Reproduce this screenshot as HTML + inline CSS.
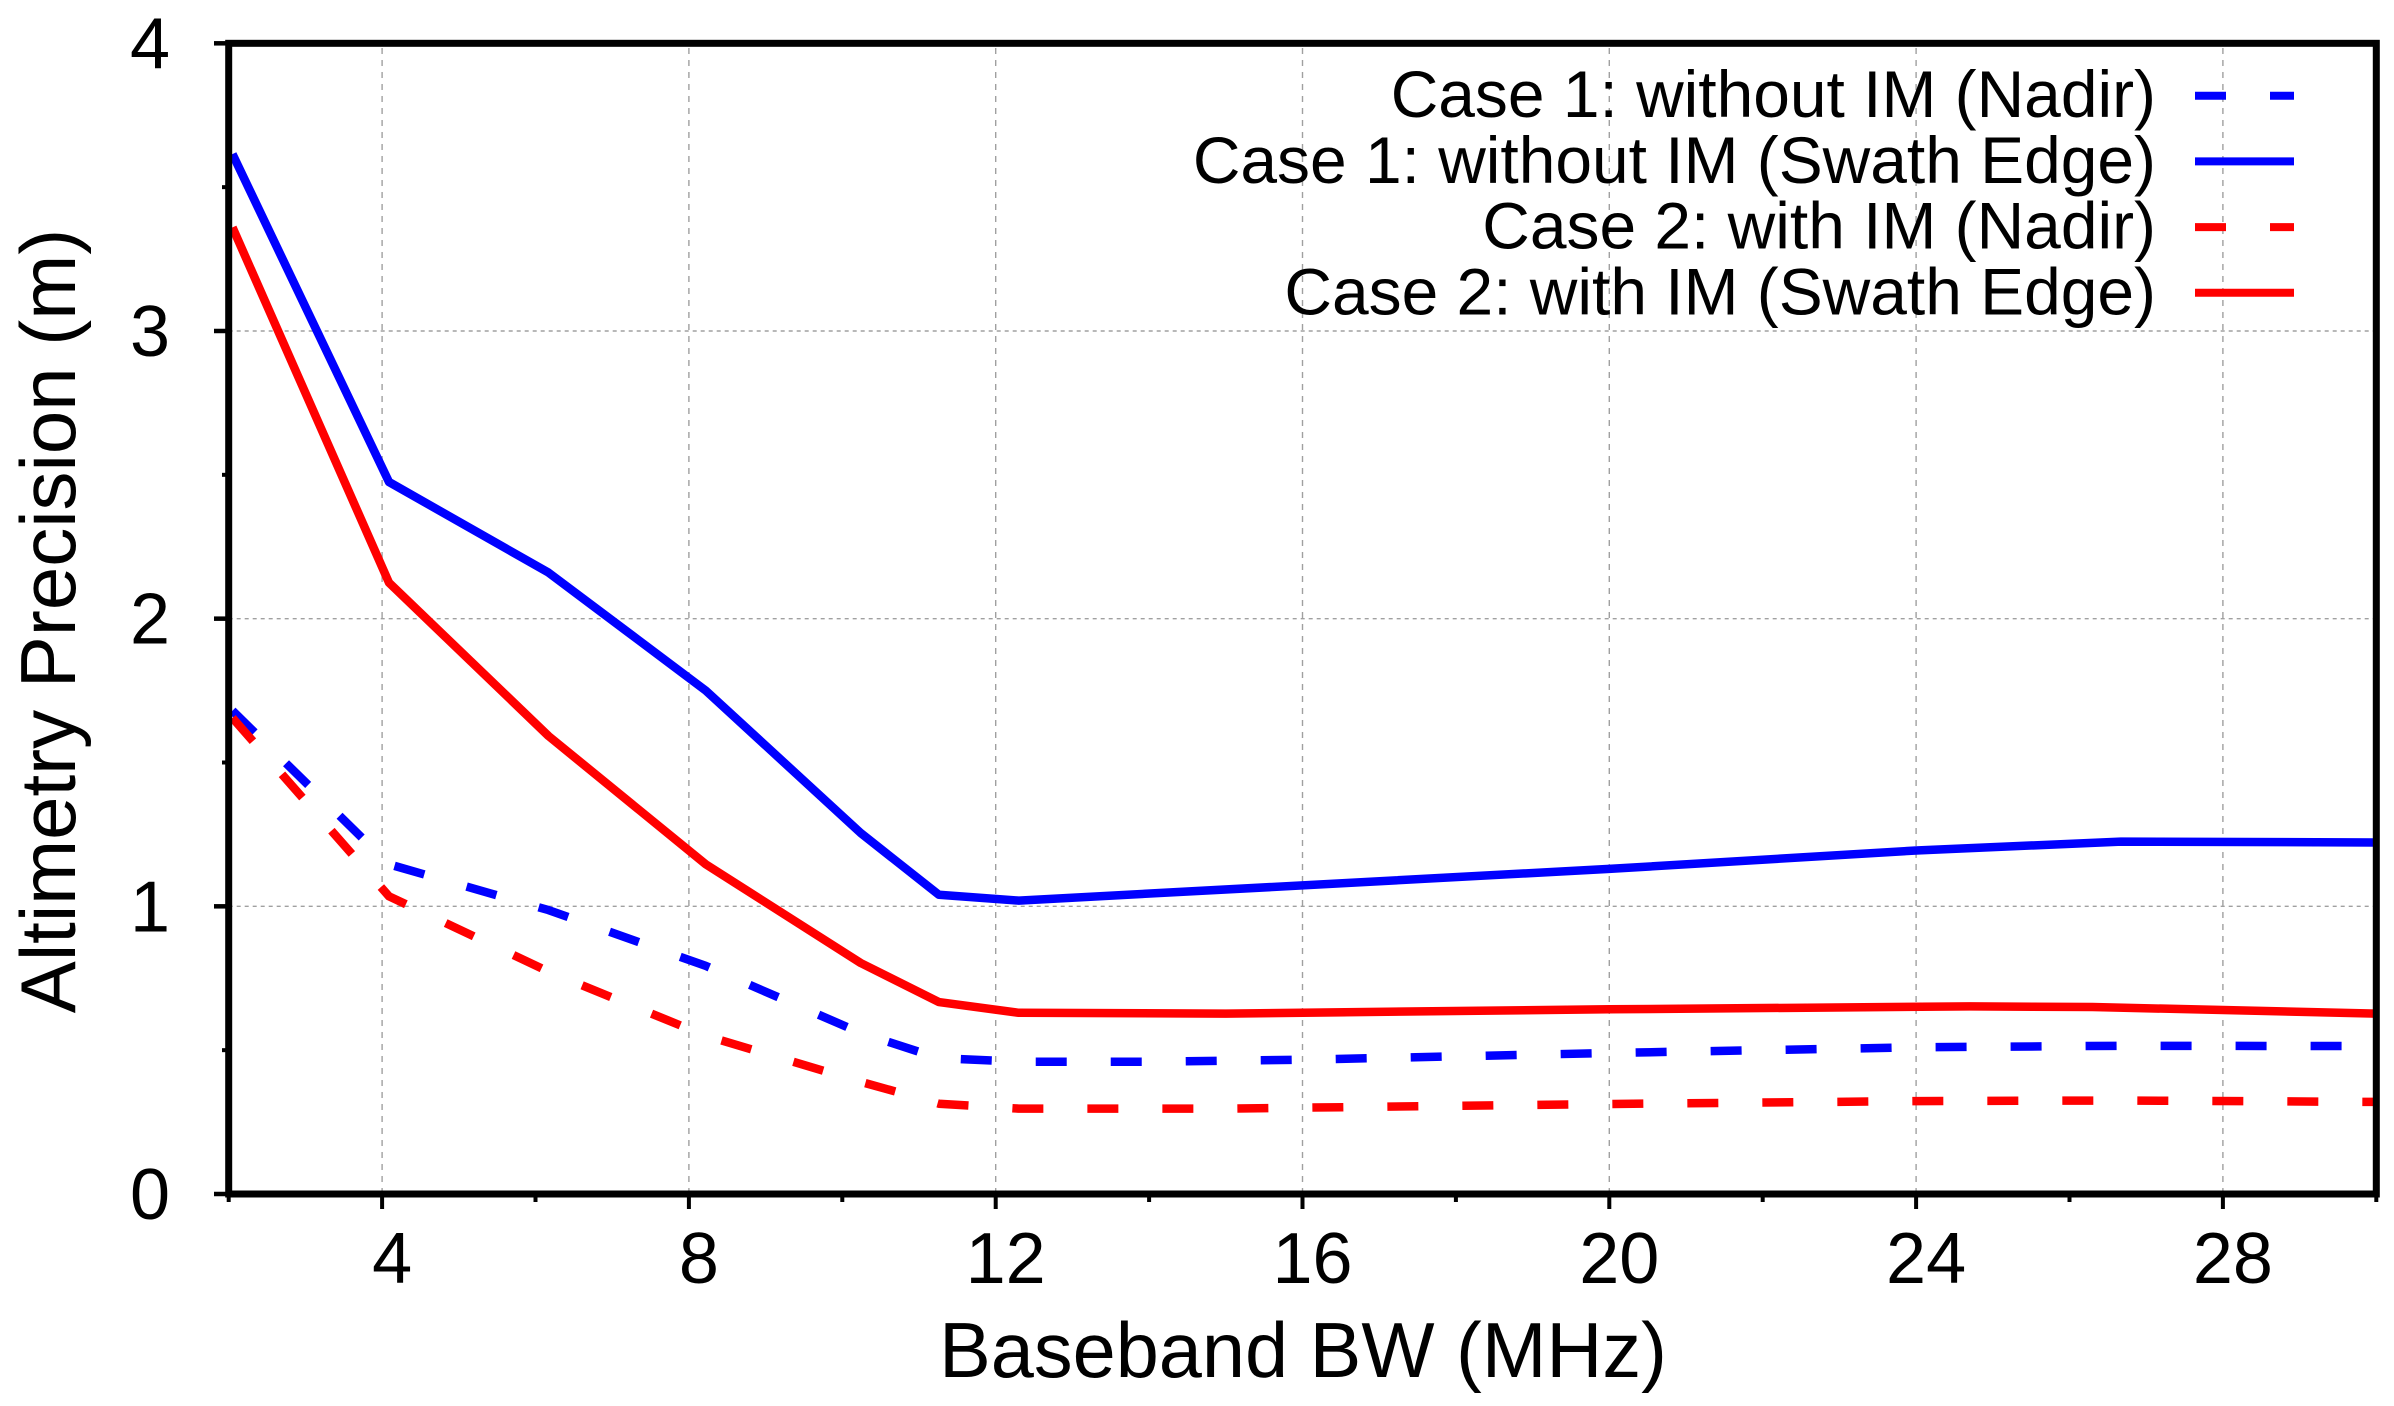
<!DOCTYPE html>
<html lang="en">
<head>
<meta charset="utf-8">
<title>Altimetry Precision vs Baseband BW</title>
<style>
html,body{margin:0;padding:0;background:#fff;}
svg{display:block;}
text{font-family:"Liberation Sans",Arial,sans-serif;fill:#000;}
</style>
</head>
<body>
<svg id="chart" xmlns="http://www.w3.org/2000/svg" width="2394" height="1406" viewBox="0 0 2394 1406">
  <rect x="0" y="0" width="2394" height="1406" fill="#fff"/>
  <g id="grid"></g>
  <g id="series"></g>
  <g id="axes"></g>
  <g id="legend"></g>
  <text x="1303" y="1377" font-size="77.5" text-anchor="middle">Baseband BW (MHz)</text>
  <text transform="translate(75,621) rotate(-90)" font-size="78" text-anchor="middle">Altimetry Precision (m)</text>
</svg>
<script>
var xMajorTicks = [4, 8, 12, 16, 20, 24, 28];
var xMinorTicks = [2, 6, 10, 14, 18, 22, 26, 30];
var yMajorTicks = [0, 1, 2, 3, 4];
var yMinorTicks = [0.5, 1.5, 2.5, 3.5];
var yGridTicks = [1, 2, 3];

var case1NadirX = [2.05, 4.09, 6.17, 8.22, 10.24, 11.26, 12.3, 14, 16, 20, 24, 26.67, 30];
var case1NadirY = [1.68, 1.146, 0.987, 0.793, 0.56, 0.472, 0.46, 0.46, 0.467, 0.49, 0.51, 0.515, 0.514];

var case1EdgeX = [2.05, 4.09, 6.17, 8.22, 10.24, 11.26, 12.3, 20, 24, 26.67, 30];
var case1EdgeY = [3.615, 2.475, 2.16, 1.75, 1.255, 1.04, 1.02, 1.13, 1.194, 1.225, 1.222];

var case2NadirX = [2.05, 4.09, 6.17, 8.22, 10.24, 11.26, 12.3, 15, 20, 24, 26.67, 30];
var case2NadirY = [1.655, 1.035, 0.773, 0.55, 0.39, 0.314, 0.297, 0.297, 0.313, 0.323, 0.325, 0.32];

var case2EdgeX = [2.05, 4.09, 6.17, 8.22, 10.24, 11.26, 12.3, 15, 20, 24.7, 26.3, 30];
var case2EdgeY = [3.36, 2.125, 1.592, 1.146, 0.803, 0.667, 0.63, 0.627, 0.642, 0.652, 0.65, 0.627];

var legendLabels = [
  "Case 1: without IM (Nadir)",
  "Case 1: without IM (Swath Edge)",
  "Case 2: with IM (Nadir)",
  "Case 2: with IM (Swath Edge)"
];

var SVGNS = "http://www.w3.org/2000/svg";
function xScale(v) { return 228.7 + (v - 2) * 76.7; }
function yScale(v) { return 1194 - v * 287.67; }
function make(parent, tag, attrs, text) {
  var el = document.createElementNS(SVGNS, tag);
  for (var k in attrs) { el.setAttribute(k, attrs[k]); }
  if (text !== undefined) { el.textContent = text; }
  parent.appendChild(el);
  return el;
}

var gridG = document.getElementById("grid");
var seriesG = document.getElementById("series");
var axesG = document.getElementById("axes");
var legendG = document.getElementById("legend");

xMajorTicks.forEach(function (t) {
  var el = make(gridG, "line", { x1: xScale(t), x2: xScale(t), y1: yScale(0), y2: yScale(4), stroke: "#a0a0a0", "stroke-width": 1.4, "stroke-dasharray": "6 6" });
  
  
});
yGridTicks.forEach(function (t) {
  var el = make(gridG, "line", { x1: xScale(2), x2: xScale(30), y1: yScale(t), y2: yScale(t), stroke: "#a0a0a0", "stroke-width": 1.4, "stroke-dasharray": "4 4" });
  
  
});

function drawSeries(xs, ys, color, dash) {
  var pts = xs.map(function (x, i) { return xScale(x).toFixed(1) + "," + yScale(ys[i]).toFixed(1); }).join(" ");
  var attrs = { points: pts, fill: "none", stroke: color, "stroke-width": 8.5, "stroke-linejoin": "round" };
  if (dash) { attrs["stroke-dasharray"] = "31 44"; }
  return make(seriesG, "polyline", attrs);
}
var s1 = drawSeries(case1NadirX, case1NadirY, "#0000ff", true);


var s2 = drawSeries(case1EdgeX, case1EdgeY, "#0000ff", false);


var s3 = drawSeries(case2NadirX, case2NadirY, "#ff0000", true);


var s4 = drawSeries(case2EdgeX, case2EdgeY, "#ff0000", false);



var frame = make(axesG, "rect", { x: xScale(2), y: yScale(4), width: xScale(30) - xScale(2), height: yScale(0) - yScale(4), fill: "none", stroke: "#000", "stroke-width": 7 });



xMajorTicks.forEach(function (t) {
  var tick = make(axesG, "line", { x1: xScale(t), x2: xScale(t), y1: yScale(0), y2: 1209, stroke: "#000", "stroke-width": 4 });
  
  
  var label = make(axesG, "text", { x: xScale(t) + 10, y: 1283, "font-size": 72, "text-anchor": "middle" }, String(t));
  
  
});
xMinorTicks.forEach(function (t) {
  var tick = make(axesG, "line", { x1: xScale(t), x2: xScale(t), y1: yScale(0), y2: 1202, stroke: "#000", "stroke-width": 4 });
  
  
});
yMajorTicks.forEach(function (t) {
  var tick = make(axesG, "line", { x1: 214, x2: xScale(2), y1: yScale(t), y2: yScale(t), stroke: "#000", "stroke-width": 4.5 });
  
  
  var label = make(axesG, "text", { x: 170, y: yScale(t) + 25, "font-size": 72, "text-anchor": "end" }, String(t));
  
  
});
yMinorTicks.forEach(function (t) {
  var tick = make(axesG, "line", { x1: 222, x2: xScale(2), y1: yScale(t), y2: yScale(t), stroke: "#000", "stroke-width": 4 });
  
  
});

var legendColors = ["#0000ff", "#0000ff", "#ff0000", "#ff0000"];
var legendDashed = [true, false, true, false];
legendLabels.forEach(function (label, i) {
  var rowY = 95.7 + i * 65.7;
  var text = make(legendG, "text", { x: 2156, y: rowY + 21.5, "font-size": 65.9, "text-anchor": "end" }, label);
  
  
  var attrs = { x1: 2195, x2: 2294, y1: rowY, y2: rowY, stroke: legendColors[i], "stroke-width": 8 };
  if (legendDashed[i]) { attrs["stroke-dasharray"] = "31 44"; }
  var swatch = make(legendG, "line", attrs);
  
  
});
</script>
</body>
</html>
